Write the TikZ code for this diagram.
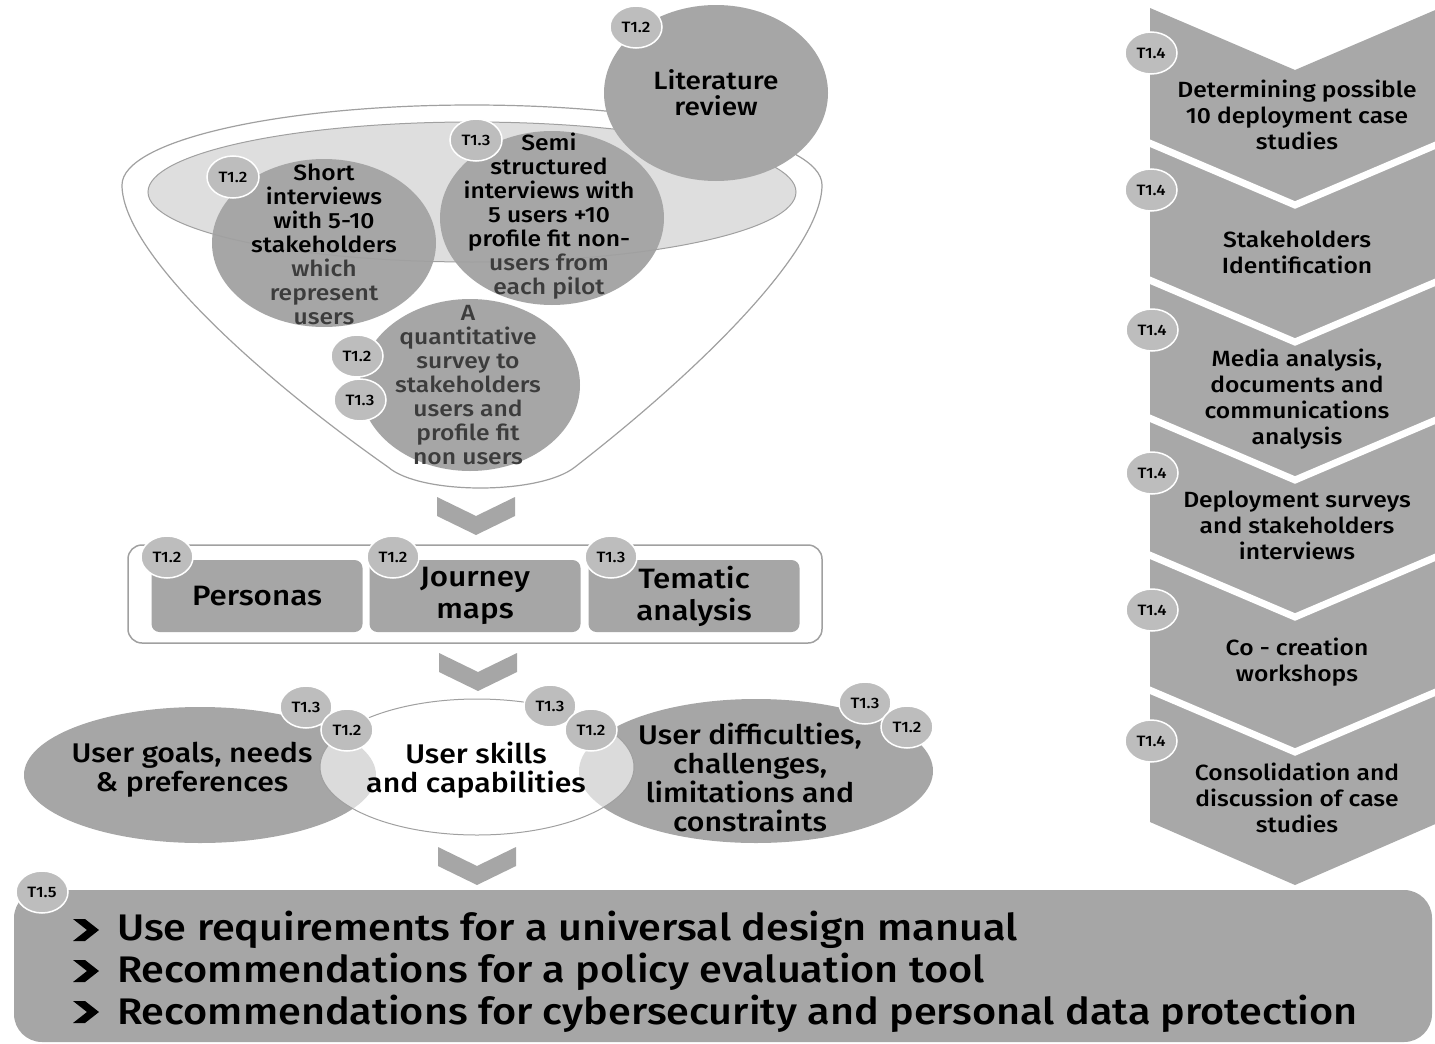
\documentclass[tikz,border=0pt]{standalone}
\usepackage{fontspec}
\setmainfont{Fira Sans}[UprightFont=* Medium, FakeStretch=1.12]
\usetikzlibrary{shapes.geometric}

\definecolor{blobgray}{HTML}{A6A6A6}
\definecolor{stepgray}{HTML}{A8A8A8}
\definecolor{taggray}{HTML}{BDBDBD}
\definecolor{rimgray}{HTML}{A0A0A0}
\definecolor{lensgray}{HTML}{DEDEDE}
\definecolor{softblack}{HTML}{3C3C3C}

% lighter lines of text below the lens
\newcommand{\faint}[1]{\textcolor{softblack}{#1}}
% small down chevron: centre x, top y
\newcommand{\downchev}[2]{%
  \fill[blobgray] (#1-39,#2) -- (#1,#2+19) -- (#1+39,#2) -- (#1+39,#2+19)
    -- (#1,#2+38) -- (#1-39,#2+19) -- cycle;}
% heavy bullet of the result list: centre x, centre y
\newcommand{\resbullet}[2]{%
  \fill[black] (#1-13,#2-11) -- (#1-1,#2-11) -- (#1+13,#2) -- (#1-1,#2+11)
    -- (#1-13,#2+11) -- (#1+1,#2) -- cycle;}

\tikzset{
  tag/.style={ellipse, fill=taggray, draw=white, line width=1.5pt,
    minimum width=52pt, minimum height=42pt, inner sep=0pt,
    font=\fontsize{15}{15}\selectfont},
  blobtext/.style={align=center, inner sep=0pt, font=\fontsize{22}{24}\selectfont},
  card/.style={rectangle, rounded corners=8pt, fill=blobgray, inner sep=2pt,
    minimum width=211pt, minimum height=72pt, align=center,
    font=\fontsize{28}{32}\selectfont},
  ovaltext/.style={align=center, inner sep=0pt, font=\fontsize{27}{29}\selectfont},
  steptext/.style={align=center, inner sep=0pt, font=\fontsize{22}{26}\selectfont},
  outline/.style={anchor=base west, inner sep=0pt, font=\fontsize{37}{42}\selectfont},
}

\begin{document}
\begin{tikzpicture}[x=1pt, y=-1pt]
  \useasboundingbox (0,0) rectangle (1435,1044);

  % ---- Funnel ----
  % Outer rim and body
  \draw[rimgray, line width=1.2pt, fill=white]
    (122,185) arc[start angle=180, end angle=360, x radius=350, y radius=80]
    .. controls (822,250) and (700,370) .. (575,467)
    .. controls (540,495) and (420,495) .. (388,467)
    .. controls (250,370) and (122,250) .. (122,185) -- cycle;
  % Lens
  \fill[lensgray] (472,192) ellipse [x radius=324, y radius=70];
  % Sources inside the funnel
  \fill[blobgray] (324,243) ellipse [x radius=112, y radius=84];
  \fill[blobgray] (552,218) ellipse [x radius=112, y radius=87];
  \fill[blobgray] (470,385) ellipse [x radius=110, y radius=86];
  \draw[rimgray, line width=1pt] (472,192) ellipse [x radius=324, y radius=70];
  \fill[blobgray] (716,93) ellipse [x radius=112, y radius=88];

  \node[blobtext, font=\fontsize{25}{26}\selectfont] (litrev) at (716,93) {Literature\\review};
  \node[blobtext] (shortint) at (324,244) {Short\\interviews\\with 5-10\\stakeholders\\
    \faint{which}\\\faint{represent}\\\faint{users}};
  \node[blobtext] (semiint) at (549,216) {Semi\\structured\\interviews with\\5 users +10\\
    profile fit non-\\\faint{users from}\\\faint{each pilot}};
  \node[blobtext] (survey) at (468,385) {\faint{A}\\\faint{quantitative}\\\faint{survey to}\\
    \faint{stakeholders}\\\faint{users and}\\\faint{profile fit}\\\faint{non users}};

  \node[tag] (tlit) at (636,27) {T1.2};
  \node[tag] (tshort) at (233,177) {T1.2};
  \node[tag] (tsemi) at (476,140) {T1.3};
  \node[tag] (tsurveya) at (357,356) {T1.2};
  \node[tag] (tsurveyb) at (360,400) {T1.3};

  \downchev{476}{497}

  % ---- Analysis outputs ----
  \draw[rimgray, line width=1.5pt, fill=white, rounded corners=14pt]
    (128,545) rectangle (822,643);
  \node[card] (personas) at (257,596) {Personas};
  \node[card] (journey) at (475,596) {Journey\\maps};
  \node[card] (tematic) at (694,596) {Tematic\\analysis};
  \node[tag] (tpersonas) at (167,557) {T1.2};
  \node[tag] (tjourney) at (393,557) {T1.2};
  \node[tag] (ttematic) at (611,557) {T1.3};

  \downchev{478}{653}

  % ---- User needs ----
  \fill[blobgray] (200,775) ellipse [x radius=176, y radius=68];
  \fill[blobgray] (756,771) ellipse [x radius=177, y radius=72];
  \filldraw[fill=white, fill opacity=0.6, draw=rimgray, line width=1pt]
    (477,767) ellipse [x radius=157, y radius=68];

  \node[ovaltext] (goals) at (192,770) {User goals, needs\\\& preferences};
  \node[ovaltext] (skills) at (476,770) {User skills\\and capabilities};
  \node[ovaltext] (limits) at (750,777) {User difficulties,\\challenges,\\limitations and\\constraints};

  \node[tag] (tgoalsa) at (306,707) {T1.3};
  \node[tag] (tgoalsb) at (347,730) {T1.2};
  \node[tag] (tskillsa) at (550,706) {T1.3};
  \node[tag] (tskillsb) at (591,730) {T1.2};
  \node[tag] (tlimitsa) at (865,703) {T1.3};
  \node[tag] (tlimitsb) at (907,727) {T1.2};

  \downchev{477}{847}

  % ---- Results ----
  \fill[blobgray, rounded corners=28pt] (14,890) rectangle (1432,1042);
  \node[tag] (tresults) at (42,892) {T1.5};
  \resbullet{86}{930}
  \resbullet{86}{971}
  \resbullet{86}{1012}
  \node[outline] (useman) at (117,940) {Use requirements for a universal design manual};
  \node[outline] (policy) at (117,982) {Recommendations for a policy evaluation tool};
  \node[outline] (cyber) at (117,1024) {Recommendations for cybersecurity and personal data protection};

  % ---- Case study steps (right) ----
  \fill[stepgray] (1150,8) -- (1295,70) -- (1440,8) -- (1440,822)
    -- (1295,885) -- (1150,822) -- cycle;
  % White cuts between steps
  \draw[white, line width=7pt] (1140,139) -- (1295,205) -- (1450,139);
  \draw[white, line width=7pt] (1140,276) -- (1295,342) -- (1450,276);
  \draw[white, line width=7pt] (1140,414) -- (1295,480) -- (1450,414);
  \draw[white, line width=7pt] (1140,551) -- (1295,617) -- (1450,551);
  \draw[white, line width=7pt] (1140,686) -- (1295,752) -- (1450,686);

  \node[steptext] (cases) at (1297,115) {Determining possible\\10 deployment case\\studies};
  \node[steptext] (stakeid) at (1297,252) {Stakeholders\\Identification};
  \node[steptext] (media) at (1297,399) {Media analysis,\\documents and\\communications\\analysis};
  \node[steptext] (deploy) at (1297,525) {Deployment surveys\\and stakeholders\\interviews};
  \node[steptext] (cocreate) at (1297,662) {Co - creation\\workshops};
  \node[steptext] (consol) at (1297,798) {Consolidation and\\discussion of case\\studies};

  \node[tag] (tcases) at (1151,53) {T1.4};
  \node[tag] (tstakeid) at (1151,190) {T1.4};
  \node[tag] (tmedia) at (1152,330) {T1.4};
  \node[tag] (tdeploy) at (1152,473) {T1.4};
  \node[tag] (tcocreate) at (1152,610) {T1.4};
  \node[tag] (tconsol) at (1151,741) {T1.4};
\end{tikzpicture}
\end{document}
